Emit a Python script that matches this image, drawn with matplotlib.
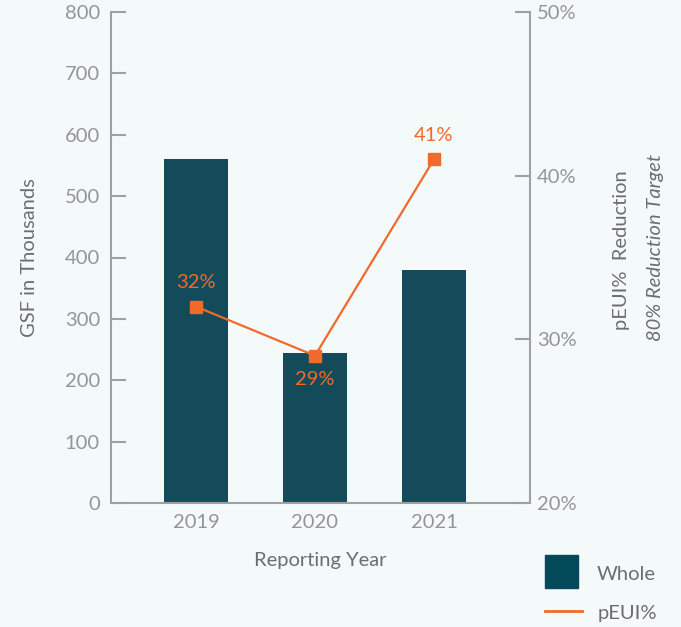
import matplotlib.pyplot as plt
import numpy as np
from matplotlib.patches import Rectangle
from matplotlib.lines import Line2D

plt.rcParams['font.family'] = ['Lato', 'DejaVu Sans']

years = ['2019', '2020', '2021']
gsf = [560, 244, 380]          # thousands
peui = [32, 29, 41]            # percent reduction
peui_labels = ['32%', '29%', '41%']
label_pos = ['above', 'below', 'above']

bg = '#F4F9F9'
bar_c = '#134B5B'
line_c = '#F26A2B'
tick_c = '#959595'
text_c = '#6E6E6E'
spine_c = '#A0A0A0'

fig = plt.figure(figsize=(6.81, 6.27), dpi=100, facecolor=bg)
ax = fig.add_axes([111/681, 1 - 503/627, 419/681, 491/627])
ax.set_facecolor(bg)

x = np.arange(len(years))
ax.bar(x, gsf, width=0.54, color=bar_c, zorder=2)
ax.set_xlim(-0.714, 2.807)
ax.set_ylim(0, 800)
ax.set_yticks(range(0, 801, 100))
ax.set_xticks(x)
ax.set_xticklabels(years)
ax.tick_params(axis='y', direction='in', length=11, width=1.5, color=spine_c,
               labelsize=14.5, labelcolor=tick_c, pad=8)
ax.tick_params(axis='x', length=0, labelsize=14.5, labelcolor=tick_c, pad=8)
for s in ['top', 'right']:
    ax.spines[s].set_visible(False)
for s in ['left', 'bottom']:
    ax.spines[s].set_color(spine_c)
    ax.spines[s].set_linewidth(1.5)
ax.set_ylabel('GSF in Thousands', fontsize=14.5, color=text_c, labelpad=19)
ax.set_xlabel('Reporting Year', fontsize=14.5, color=text_c, labelpad=15)

ax2 = ax.twinx()
ax2.plot(x, peui, color=line_c, lw=1.6, marker='s', markersize=9, zorder=3)
ax2.set_ylim(20, 50)
ax2.set_yticks([20, 30, 40, 50])
ax2.set_yticklabels(['20%', '30%', '40%', '50%'])
ax2.tick_params(axis='y', direction='in', length=11, width=1.5, color=spine_c,
                labelsize=14.5, labelcolor=tick_c, pad=5)
for s in ['top', 'left', 'bottom']:
    ax2.spines[s].set_visible(False)
ax2.spines['right'].set_color(spine_c)
ax2.spines['right'].set_linewidth(1.5)

for xi, v, lab, pos in zip(x, peui, peui_labels, label_pos):
    off = 11 if pos == 'above' else -11
    ax2.annotate(lab, (xi, v), xytext=(0, off), textcoords='offset points',
                 ha='center', va='bottom' if pos == 'above' else 'top',
                 color=line_c, fontsize=14.5)

fig.text(621/681, 1 - 250/627, 'pEUI%  Reduction', rotation=90, ha='center',
         va='center', fontsize=14.5, color=text_c)
fig.text(655/681, 1 - 248/627, '80% Reduction Target', rotation=90, ha='center',
         va='center', fontsize=14.5, color=text_c, style='italic')

# legend
fig.patches.append(Rectangle((545/681, 1 - 588/627), 33/681, 33/627,
                             transform=fig.transFigure, color='#024A5A'))
fig.text(597/681, 1 - 574/627, 'Whole', fontsize=14.5, color=text_c, va='center')
fig.lines.append(Line2D([545/681, 582/681], [1 - 611/627, 1 - 611/627],
                        transform=fig.transFigure, color=line_c, lw=2))
fig.text(598/681, 1 - 613/627, 'pEUI%', fontsize=14.5, color=text_c, va='center')

fig.savefig('out.png', dpi=100, facecolor=bg)
